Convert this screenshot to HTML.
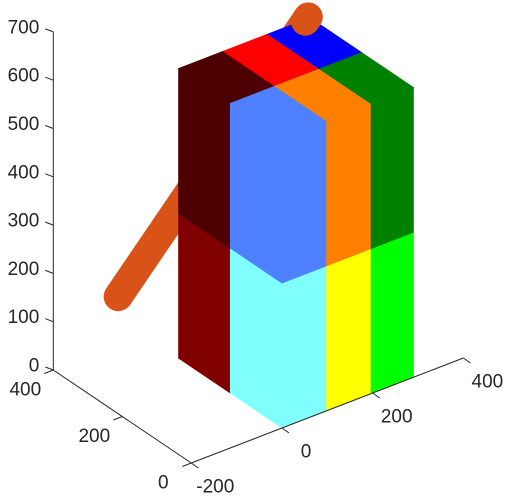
<!DOCTYPE html>
<html><head><meta charset="utf-8"><style>
html,body{margin:0;padding:0;background:#fff;}
svg{display:block;font-family:"Liberation Sans",sans-serif;}
</style></head><body>
<svg id="chart" width="509" height="497" viewBox="0 0 509 497" xmlns="http://www.w3.org/2000/svg">
<g id="tubeBack"></g>
<g id="boxes"></g>
<g id="tubeFront"></g>
<g id="axes"></g>
</svg>
<script>
// Box data
const boxX = [[0,97],[97,195],[195,290]];
const boxY = [[0,150],[150,300]];
const boxZ = [[0,300],[300,600]];
// colors indexed [z][y][x]
const boxColors = [
  [["#80ffff","#ffff00","#00ff00"],["#800000","#800000","#800000"]],
  [["#4f80ff","#ff8000","#008000"],["#4d0000","#ff0000","#0000ff"]]
];
const tubeStart = [-57,400,100];
const tubeEnd = [286,300,603];
const xTicks = [-200,0,200,400];
const yTicks = [0,200,400];
const zTicks = [0,100,200,300,400,500,600,700];

const NS = "http://www.w3.org/2000/svg";
function P(x,y,z){ return [282 + 0.4535*x - 0.345*y, 428 - 0.175*x - 0.2325*y - 0.483*z]; }
function mk(tag, attrs, parent){ const e=document.createElementNS(NS,tag); for(const k in attrs) e.setAttribute(k,attrs[k]); parent.appendChild(e); return e; }
const gB=document.getElementById('boxes'), gT=document.getElementById('tubeBack'), gF=document.getElementById('tubeFront'), gA=document.getElementById('axes');

function tube(parent, t0, t1){
  const a=P(...tubeStart), b=P(...tubeEnd);
  const p0=[a[0]+(b[0]-a[0])*t0, a[1]+(b[1]-a[1])*t0], p1=[a[0]+(b[0]-a[0])*t1, a[1]+(b[1]-a[1])*t1];
  const l=mk('line',{x1:p0[0],y1:p0[1],x2:p1[0],y2:p1[1],stroke:"#d95319","stroke-width":29,"stroke-linecap":"round"},parent);
  
  
}
tube(gT,0,1);

const list=[];
for(let zi=0;zi<boxZ.length;zi++) for(let yi=0;yi<boxY.length;yi++) for(let xi=0;xi<boxX.length;xi++){
  list.push({zi,yi,xi,depth: zi*10 - yi*5 - xi*3});
}
list.sort((a,b)=>a.depth-b.depth);
list.forEach(o=>{
  const [x0,x1]=boxX[o.xi],[y0,y1]=boxY[o.yi],[z0,z1]=boxZ[o.zi];
  const c=boxColors[o.zi][o.yi][o.xi];
  const faces=[
    [[x0,y0,z0],[x1,y0,z0],[x1,y0,z1],[x0,y0,z1]],
    [[x0,y0,z0],[x0,y1,z0],[x0,y1,z1],[x0,y0,z1]],
    [[x0,y0,z1],[x1,y0,z1],[x1,y1,z1],[x0,y1,z1]]
  ];
  const g=mk('g',{},gB);
  
  
  faces.forEach(f=>{
    const pts=f.map(p=>P(...p).join(',')).join(' ');
    const poly=mk('polygon',{points:pts,fill:c,stroke:c,"stroke-width":0.6},g);
    
    
  });
});
tube(gF,0.985,1);

const ax="#262626";
function line(a,b,name){ const l=mk('line',{x1:a[0],y1:a[1],x2:b[0],y2:b[1],stroke:ax,"stroke-width":1},gA);
  
   }
function text(x,y,s,anchor,name){ const t=mk('text',{x:x,y:y,"font-size":19,fill:ax,"text-anchor":anchor,"dominant-baseline":"central"},gA); t.textContent=s;
  
   }
line(P(-200,400,0),P(-200,400,700),'z-axis');
line(P(-200,400,0),P(-200,0,0),'y-axis');
line(P(-200,0,0),P(400,0,0),'x-axis');
zTicks.forEach(v=>{ const p=P(-200,400,v); line(p,[p[0]-8,p[1]-3],'z-tick'); text(p[0]-14,p[1]-4,String(v),'end','z-tick-label'); });
yTicks.forEach(v=>{ const p=P(-200,v,0); line(p,[p[0]-9,p[1]+3.5],'y-tick'); text(p[0]-28,p[1]+20,String(v),'middle','y-tick-label'); });
xTicks.forEach(v=>{ const p=P(v,0,0); line(p,[p[0]+7,p[1]+5],'x-tick'); text(p[0]+24,p[1]+24,String(v),'middle','x-tick-label'); });
</script>
</body></html>
